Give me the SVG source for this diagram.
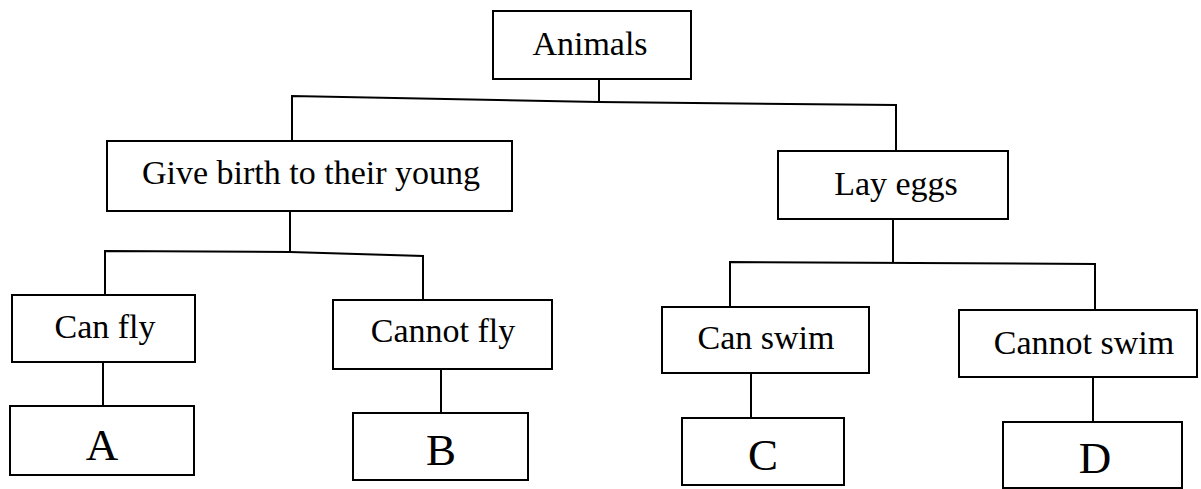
<svg xmlns="http://www.w3.org/2000/svg" width="1201" height="489" viewBox="0 0 1201 489">
<style>
.box{fill:#fff;stroke:#000;stroke-width:2}
.lbl{font-family:"Liberation Serif","Times New Roman",serif;font-size:34px;fill:#000;text-anchor:middle}
.big{font-family:"Liberation Serif","Times New Roman",serif;font-size:45px;fill:#000;text-anchor:middle}
.conn{fill:none;stroke:#000;stroke-width:2}
</style>
<rect width="1201" height="489" fill="#fff"/>
<g id="connectors" class="conn">
<path d="M599,79 V102"/>
<path d="M292,141 V96 L599,102 L896,105 V151"/>
<path d="M290,211 V252"/>
<path d="M105,295 V251 L290,252 L423,256 V300"/>
<path d="M893,219 V263"/>
<path d="M730,307 V262 L1095,264 V310"/>
<path d="M103,362 V406"/>
<path d="M441,369 V413"/>
<path d="M751,373 V418"/>
<path d="M1093,377 V422"/>
</g>
<g id="animals"><rect class="box" x="493" y="11" width="198" height="68"/><text class="lbl" x="590" y="55">Animals</text></g>
<g id="give-birth"><rect class="box" x="107" y="141" width="405" height="70"/><text class="lbl" x="311" y="184">Give birth to their young</text></g>
<g id="lay-eggs"><rect class="box" x="778" y="151" width="230" height="68"/><text class="lbl" x="896" y="195">Lay eggs</text></g>
<g id="can-fly"><rect class="box" x="12" y="295" width="183" height="67"/><text class="lbl" x="105" y="338">Can fly</text></g>
<g id="cannot-fly"><rect class="box" x="333" y="300" width="219" height="69"/><text class="lbl" x="443" y="342">Cannot fly</text></g>
<g id="can-swim"><rect class="box" x="662" y="307" width="207" height="66"/><text class="lbl" x="766" y="349">Can swim</text></g>
<g id="cannot-swim"><rect class="box" x="959" y="310" width="238" height="67"/><text class="lbl" x="1084" y="354">Cannot swim</text></g>
<g id="a"><rect class="box" x="10" y="406" width="184" height="69"/><text class="big" x="102" y="460">A</text></g>
<g id="b"><rect class="box" x="353" y="413" width="175" height="67"/><text class="big" x="441" y="465">B</text></g>
<g id="c"><rect class="box" x="682" y="418" width="162" height="67"/><text class="big" x="763" y="470">C</text></g>
<g id="d"><rect class="box" x="1003" y="422" width="179" height="66"/><text class="big" x="1095" y="473">D</text></g>
</svg>
